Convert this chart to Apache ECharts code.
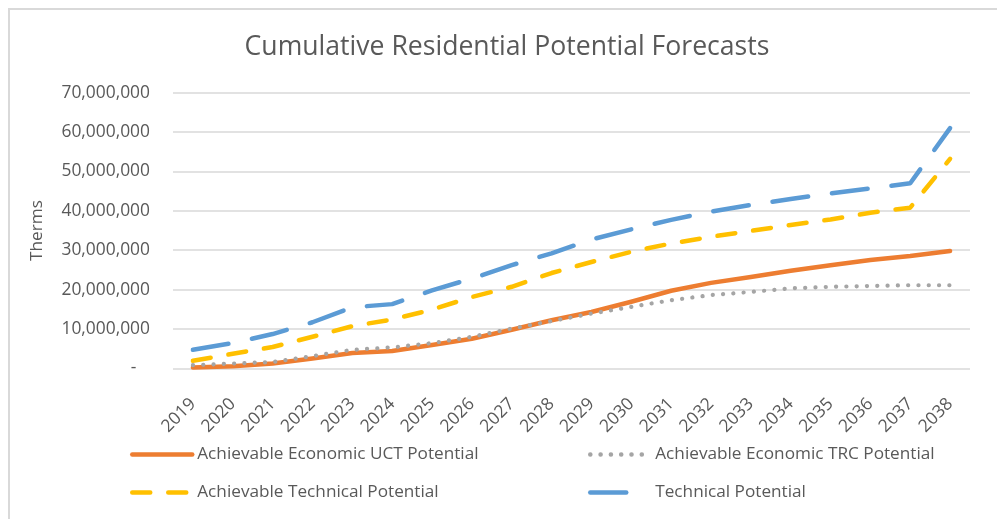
<!DOCTYPE html>
<html>
<head>
<meta charset="utf-8">
<title>Cumulative Residential Potential Forecasts</title>
<script src="https://cdn.jsdelivr.net/npm/echarts@6/dist/echarts.min.js"></script>
<style>
  html, body { margin: 0; padding: 0; background: #ffffff; }
  #chart { width: 997px; height: 519px; }
</style>
</head>
<body>
<div id="chart"></div>
<script>
// Forecast years
const years = ['2019', '2020', '2021', '2022', '2023', '2024', '2025', '2026', '2027', '2028',
               '2029', '2030', '2031', '2032', '2033', '2034', '2035', '2036', '2037', '2038'];

// Cumulative savings, therms
const achievableEconomicUCT = [200000, 500000, 1200000, 2500000, 3900000, 4400000, 5900000, 7500000, 9800000, 12200000,
                               14300000, 16900000, 19700000, 21700000, 23200000, 24800000, 26200000, 27500000, 28500000, 29800000];
const achievableEconomicTRC = [800000, 1200000, 1600000, 3100000, 4700000, 5300000, 6400000, 8000000, 10100000, 12000000,
                               13900000, 15600000, 17300000, 18600000, 19400000, 20300000, 20700000, 20900000, 21100000, 21100000];
const achievableTechnical = [1900000, 3700000, 5400000, 8000000, 10700000, 12400000, 14900000, 18100000, 20700000, 24200000,
                             27000000, 29600000, 31700000, 33400000, 34900000, 36400000, 37800000, 39500000, 40800000, 53200000];
const technical = [4700000, 6400000, 8700000, 11700000, 15500000, 16300000, 19800000, 22800000, 26200000, 29200000,
                   32700000, 35300000, 37700000, 39800000, 41500000, 43000000, 44400000, 45700000, 47000000, 61000000];

// Value axis ticks
const yTicks = { min: 0, max: 70000000, step: 10000000 };

const seriesNames = ['Achievable Economic UCT Potential', 'Achievable Economic TRC Potential',
                     'Achievable Technical Potential', 'Technical Potential'];

const FONT = '"Open Sans", "Noto Sans", sans-serif';
const TEXT = '#595959';
const GRID = '#d9d9d9';

const chart = echarts.init(document.getElementById('chart'), null, { renderer: 'canvas' });

function lineSeries(name, data, color, dash, cap, width) {
  return {
    name: name,
    type: 'line',
    data: data,
    symbol: 'none',
    smooth: false,
    animation: false,
    lineStyle: { color: color, width: width, type: dash, cap: cap, join: 'round' },
    itemStyle: { color: color },
    emphasis: { disabled: true }
  };
}

// One legend per entry so the two columns line up
function legendAt(name, left, top) {
  return {
    data: [name],
    left: left,
    top: top,
    padding: 0,
    itemWidth: 60,
    itemHeight: 14,
    itemGap: 0,
    selectedMode: false,
    itemStyle: { opacity: 0 },
    lineStyle: { width: 4.5 },
    textStyle: { color: TEXT, fontSize: 17.2, fontFamily: FONT }
  };
}

chart.setOption({
  backgroundColor: '#ffffff',
  animation: false,
  title: {
    text: 'Cumulative Residential Potential Forecasts',
    left: 502,
    textAlign: 'center',
    top: 29,
    textStyle: { color: TEXT, fontSize: 26.6, fontWeight: 'normal', fontFamily: FONT }
  },
  graphic: [{
    type: 'rect',
    silent: true,
    shape: { x: 9, y: 9, width: 1000, height: 520 },
    style: { fill: null, stroke: GRID, lineWidth: 2 }
  }],
  legend: [
    legendAt(seriesNames[0], 130, 446),
    legendAt(seriesNames[1], 588, 446),
    legendAt(seriesNames[2], 130, 484),
    legendAt(seriesNames[3], 588, 484)
  ],
  grid: {
    left: 173, right: 27, top: 92.7, bottom: 150.7,
    outerBoundsMode: 'none',
    containLabel: false
  },
  xAxis: {
    type: 'category',
    data: years,
    boundaryGap: true,
    // the zero gridline serves as the baseline; labels sit lower
    offset: 25,
    axisLine: { show: false },
    axisTick: { show: false },
    axisLabel: {
      interval: 0,
      rotate: 45,
      margin: 8,
      color: TEXT,
      fontSize: 17.4,
      fontFamily: FONT,
      hideOverlap: false
    },
    splitLine: { show: false }
  },
  yAxis: {
    type: 'value',
    min: yTicks.min,
    max: yTicks.max,
    interval: yTicks.step,
    name: 'Therms',
    nameLocation: 'middle',
    nameRotate: 90,
    nameGap: 127,
    nameTextStyle: { color: TEXT, fontSize: 17.2, fontFamily: FONT },
    axisLine: { show: false },
    axisTick: { show: false },
    axisLabel: {
      margin: 23,
      color: TEXT,
      fontSize: 17.4,
      fontFamily: FONT,
      formatter: function (v) {
        return v === 0 ? '-   ' : v.toLocaleString('en-US');
      }
    },
    splitLine: { show: true, lineStyle: { color: GRID, width: 1.5 } }
  },
  series: [
    lineSeries(seriesNames[0], achievableEconomicUCT, '#ED7D31', 'solid', 'round', 4.5),
    lineSeries(seriesNames[1], achievableEconomicTRC, '#A5A5A5', [0.1, 10.2], 'round', 4.2),
    lineSeries(seriesNames[2], achievableTechnical, '#FFC000', [18, 18], 'round', 4.5),
    lineSeries(seriesNames[3], technical, '#5B9BD5', [36, 24], 'round', 4.5)
  ]
});
</script>
</body>
</html>
